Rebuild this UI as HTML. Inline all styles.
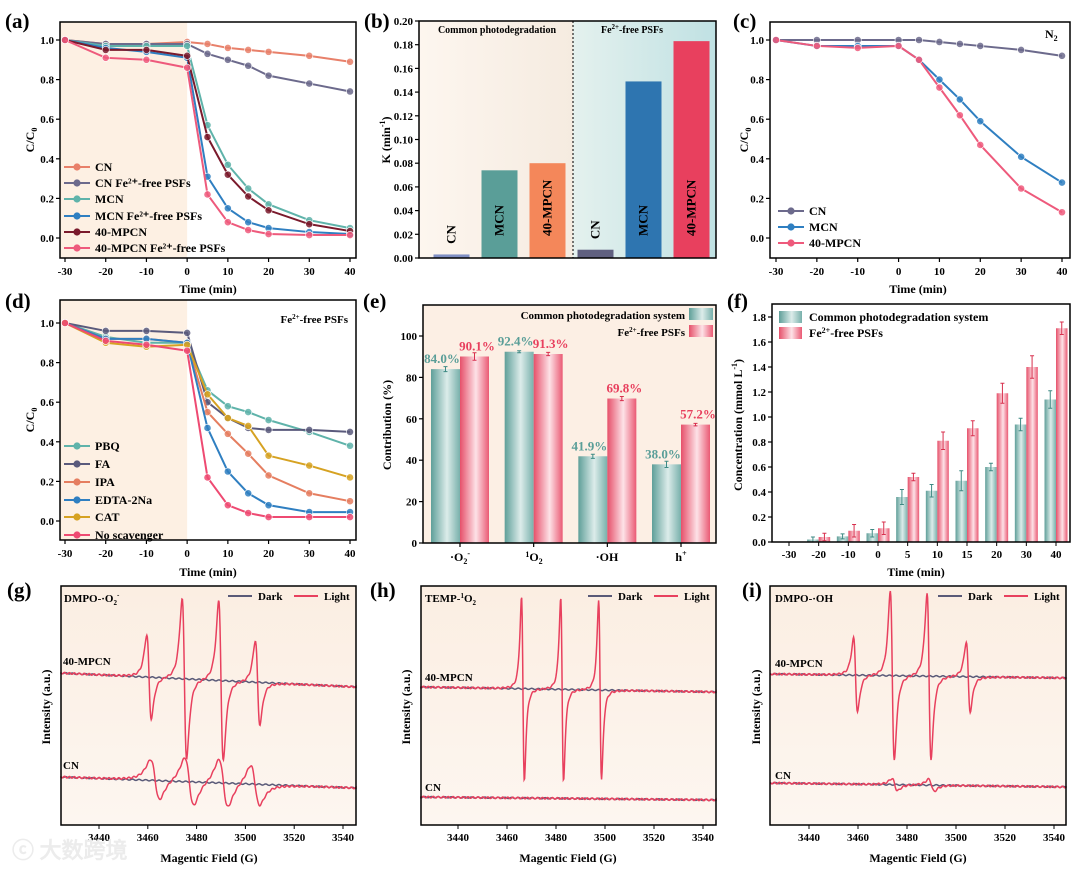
<!DOCTYPE html>
<html><head><meta charset="utf-8"><style>
html,body{margin:0;padding:0;background:#fff;}
svg{display:block;}
text{font-family:"Liberation Serif",serif;font-weight:bold;}
</style></head><body>
<svg id="fig" width="1080" height="870" viewBox="0 0 1080 870" xmlns="http://www.w3.org/2000/svg" font-family="'Liberation Serif',serif" font-weight="bold">
<defs>
<linearGradient id="gTeal" x1="0" x2="1" y1="0" y2="0"><stop offset="0" stop-color="#5f9f99"/><stop offset="0.55" stop-color="#dcecea"/><stop offset="1" stop-color="#78b0ab"/></linearGradient>
<linearGradient id="gPink" x1="0" x2="1" y1="0" y2="0"><stop offset="0" stop-color="#e6506a"/><stop offset="0.55" stop-color="#fde2e7"/><stop offset="1" stop-color="#ea5a74"/></linearGradient>
<linearGradient id="bL" x1="0" x2="1"><stop offset="0" stop-color="#fdf6ef"/><stop offset="1" stop-color="#f5ebe0"/></linearGradient>
<linearGradient id="bR" x1="0" x2="1"><stop offset="0" stop-color="#e4f1ee"/><stop offset="1" stop-color="#c0e1e3"/></linearGradient>
<linearGradient id="ePeach" x1="0" y1="0" x2="0" y2="1"><stop offset="0" stop-color="#fbeee2"/><stop offset="1" stop-color="#fdf6f0"/></linearGradient>
</defs>
<g id="bgs"></g>
<g id="marks"></g>
<g id="labels" font-size="12">
<text x="5" y="28" font-size="21">(a)</text>
<text x="364" y="28" font-size="21">(b)</text>
<text x="733" y="28" font-size="21">(c)</text>
<text x="5" y="308" font-size="21">(d)</text>
<text x="363" y="308" font-size="21">(e)</text>
<text x="727" y="308" font-size="21">(f)</text>
<text x="7" y="597" font-size="21">(g)</text>
<text x="370" y="597" font-size="21">(h)</text>
<text x="742" y="597" font-size="21">(i)</text>
<text transform="translate(34,140) rotate(-90)" text-anchor="middle">C/C<tspan font-size="8" dy="3">0</tspan></text>
<text transform="translate(748,140) rotate(-90)" text-anchor="middle">C/C<tspan font-size="8" dy="3">0</tspan></text>
<text transform="translate(34,420) rotate(-90)" text-anchor="middle">C/C<tspan font-size="8" dy="3">0</tspan></text>
<text transform="translate(390,140) rotate(-90)" text-anchor="middle">K (min<tspan font-size="8" dy="-5">-1</tspan><tspan dy="5">)</tspan></text>
<text transform="translate(391,425) rotate(-90)" text-anchor="middle">Contribution (%)</text>
<text transform="translate(742,425) rotate(-90)" text-anchor="middle">Concentration (mmol L<tspan font-size="8" dy="-5">-1</tspan><tspan dy="5">)</tspan></text>
<text x="208" y="293" text-anchor="middle">Time (min)</text>
<text x="918" y="293" text-anchor="middle">Time (min)</text>
<text x="208" y="576" text-anchor="middle">Time (min)</text>
<text x="916" y="576" text-anchor="middle">Time (min)</text>
<text x="209" y="862" text-anchor="middle">Magentic Field (G)</text>
<text x="568" y="862" text-anchor="middle">Magentic Field (G)</text>
<text x="918" y="862" text-anchor="middle">Magentic Field (G)</text>
<text transform="translate(50,707) rotate(-90)" text-anchor="middle">Intensity (a.u.)</text>
<text transform="translate(410,707) rotate(-90)" text-anchor="middle">Intensity (a.u.)</text>
<text transform="translate(760,707) rotate(-90)" text-anchor="middle">Intensity (a.u.)</text>
<text x="497" y="33" font-size="10" text-anchor="middle">Common photodegradation</text>
<text x="632" y="33" font-size="10" text-anchor="middle">Fe<tspan font-size="7" dy="-4">2+</tspan><tspan dy="4">-free PSFs</tspan></text>
<text x="1045" y="38">N<tspan font-size="8" dy="3">2</tspan></text>
<text x="348" y="323" font-size="11" text-anchor="end">Fe<tspan font-size="7" dy="-4">2+</tspan><tspan dy="4">-free PSFs</tspan></text>
<text x="64" y="602" font-size="11">DMPO-·O<tspan font-size="7" dy="3">2</tspan><tspan font-size="7" dy="-8">-</tspan></text>
<text x="425" y="602" font-size="11">TEMP-<tspan font-size="7" dy="-4">1</tspan><tspan dy="4">O</tspan><tspan font-size="7" dy="3">2</tspan></text>
<text x="775" y="602" font-size="11">DMPO-·OH</text>
<text x="63" y="665" font-size="11">40-MPCN</text>
<text x="63" y="769" font-size="11">CN</text>
<text x="425" y="681" font-size="11">40-MPCN</text>
<text x="425" y="791" font-size="11">CN</text>
<text x="775" y="667" font-size="11">40-MPCN</text>
<text x="775" y="779" font-size="11">CN</text>
<text x="685" y="319" font-size="11" text-anchor="end">Common photodegradation system</text>
<text x="685" y="336" font-size="11" text-anchor="end">Fe<tspan font-size="7" dy="-4">2+</tspan><tspan dy="4">-free PSFs</tspan></text>
<rect x="689" y="308" width="24" height="12" fill="url(#gTeal)"/>
<rect x="689" y="325" width="24" height="12" fill="url(#gPink)"/>
<rect x="779" y="311" width="23" height="12" fill="url(#gTeal)"/>
<rect x="779" y="327" width="23" height="12" fill="url(#gPink)"/>
<text x="809" y="321" font-size="12">Common photodegradation system</text>
<text x="809" y="337" font-size="12">Fe<tspan font-size="8" dy="-4">2+</tspan><tspan dy="4">-free PSFs</tspan></text>
<text x="460" y="561" text-anchor="middle">·O<tspan font-size="8" dy="3">2</tspan><tspan font-size="8" dy="-8">-</tspan></text>
<text x="534" y="561" text-anchor="middle"><tspan font-size="8" dy="-4">1</tspan><tspan dy="4">O</tspan><tspan font-size="8" dy="3">2</tspan></text>
<text x="607" y="561" text-anchor="middle">·OH</text>
<text x="681" y="561" text-anchor="middle">h<tspan font-size="8" dy="-5">+</tspan></text>
<text x="12" y="858" font-size="22" fill="#ececec" font-family="'Liberation Sans','Noto Sans CJK SC',sans-serif">ⓒ 大数跨境</text>
</g>
</svg>
<script>
const lineX=[-30,-20,-10,0,5,10,15,20,30,40];
const lineXTicks=[-30,-20,-10,0,10,20,30,40];
const ratioTicks=[0,0.2,0.4,0.6,0.8,1.0];
const aNames=['CN','CN Fe2+-free PSFs','MCN','MCN Fe2+-free PSFs','40-MPCN','40-MPCN Fe2+-free PSFs'];
const aCN=[1,0.98,0.98,0.99,0.98,0.96,0.95,0.94,0.92,0.89];
const aCNFe=[1,0.98,0.98,0.98,0.93,0.90,0.87,0.82,0.78,0.74];
const aMCN=[1,0.97,0.97,0.97,0.57,0.37,0.25,0.17,0.09,0.05];
const aMCNFe=[1,0.96,0.94,0.91,0.31,0.15,0.08,0.05,0.03,0.02];
const aMPCN=[1,0.95,0.95,0.92,0.51,0.32,0.21,0.14,0.07,0.035];
const aMPCNFe=[1,0.91,0.90,0.86,0.22,0.08,0.04,0.02,0.015,0.015];
const bCats=['CN','MCN','40-MPCN','CN','MCN','40-MPCN'];
const bValues=[0.003,0.074,0.080,0.007,0.149,0.183];
const bTicks=[0,0.02,0.04,0.06,0.08,0.10,0.12,0.14,0.16,0.18,0.20];
const cNames=['CN','MCN','40-MPCN'];
const cCN=[1,1,1,1,1,0.99,0.98,0.97,0.95,0.92];
const cMCN=[1,0.97,0.97,0.97,0.90,0.80,0.70,0.59,0.41,0.28];
const cMPCN=[1,0.97,0.96,0.97,0.90,0.76,0.62,0.47,0.25,0.13];
const dNames=['PBQ','FA','IPA','EDTA-2Na','CAT','No scavenger'];
const dPBQ=[1,0.93,0.90,0.90,0.66,0.58,0.55,0.51,0.45,0.38];
const dFA=[1,0.96,0.96,0.95,0.60,0.52,0.47,0.46,0.46,0.45];
const dIPA=[1,0.92,0.92,0.90,0.55,0.44,0.34,0.23,0.14,0.10];
const dEDTA=[1,0.92,0.92,0.90,0.47,0.25,0.14,0.08,0.045,0.045];
const dCAT=[1,0.90,0.88,0.89,0.64,0.52,0.48,0.33,0.28,0.22];
const dNone=[1,0.91,0.89,0.86,0.22,0.08,0.04,0.02,0.02,0.02];
const eCats=['·O2-','1O2','·OH','h+'];
const eCommon=[84.0,92.4,41.9,38.0];
const eFe=[90.1,91.3,69.8,57.2];
const eErr=[1.2,0.5,1.0,1.5];
const eFeErr=[1.8,0.8,1.0,0.6];
const eTicks=[0,20,40,60,80,100];
const fCats=['-30','-20','-10','0','5','10','15','20','30','40'];
const fCommon=[0,0.02,0.045,0.07,0.36,0.41,0.49,0.60,0.94,1.14];
const fFe=[0,0.04,0.09,0.11,0.52,0.81,0.91,1.19,1.40,1.71];
const fErr=[0,0.02,0.02,0.03,0.06,0.05,0.08,0.03,0.05,0.07];
const fFeErr=[0,0.03,0.05,0.05,0.03,0.07,0.06,0.08,0.09,0.05];
const fTicks=[0,0.2,0.4,0.6,0.8,1.0,1.2,1.4,1.6,1.8];
const eprTicks=[3440,3460,3480,3500,3520,3540];
const gMPCNField=[3460.5,3475,3490,3505];
const gMPCNAmp=[42,80,80,42];
const gCNField=[3463,3477,3491,3504];
const gCNAmp=[20,24,24,20];
const hMPCNField=[3466.5,3482.5,3498];
const hMPCNAmp=[92,92,90];
const iMPCNField=[3459,3474,3489,3505];
const iMPCNAmp=[37,85,83,35];

const NS='http://www.w3.org/2000/svg';
const bgs=document.getElementById('bgs');
const marks=document.getElementById('marks');
function mk(tag,attrs,parent){const e=document.createElementNS(NS,tag);for(const k in attrs)e.setAttribute(k,attrs[k]);(parent||marks).appendChild(e);return e;}
function lin(d0,d1,p0,p1){return v=>p0+(v-d0)*(p1-p0)/(d1-d0);}
function label(x,y,s,anchor,size,name,fill){const t=mk('text',{x:x,y:y,'text-anchor':anchor||'middle','font-size':size||11,fill:fill||'#000','font-family':"'Liberation Serif',serif",'font-weight':'bold'});t.textContent=s;


return t;}
function box(b,name){const r=mk('rect',{x:b[0],y:b[1],width:b[2]-b[0],height:b[3]-b[1],fill:'none',stroke:'#000','stroke-width':1.5});

}
function bgRect(x0,y0,x1,y1,fill,name){const r=mk('rect',{x:x0,y:y0,width:x1-x0,height:y1-y0,fill:fill},bgs);

}
function errBar(x,y0,y1,color,name){const l=mk('path',{d:'M'+x+','+y0+'V'+y1+'M'+(x-2)+','+y0+'H'+(x+2)+'M'+(x-2)+','+y1+'H'+(x+2),stroke:color,'stroke-width':1,fill:'none'});

}
function xTicks(b,X,vals,fmt,name,labels){vals.forEach(v=>{const l=mk('line',{x1:X(v),x2:X(v),y1:b[3],y2:b[3]+4,stroke:'#000','stroke-width':1.2});


if(labels!==false)label(X(v),b[3]+17,fmt(v),'middle',11,name+'-label');});}
function yTicks(b,Y,vals,fmt,name){vals.forEach(v=>{const l=mk('line',{x1:b[0]-4,x2:b[0],y1:Y(v),y2:Y(v),stroke:'#000','stroke-width':1.2});


label(b[0]-6,Y(v)+4,fmt(v),'end',11,name+'-label');});}
function series(X,Y,xs,ys,color,name){const pts=xs.map((x,i)=>X(x)+','+Y(ys[i])).join(' ');
const p=mk('polyline',{points:pts,fill:'none',stroke:color,'stroke-width':2});


xs.forEach((x,i)=>{const c=mk('circle',{cx:X(x),cy:Y(ys[i]),r:3.6,fill:color,stroke:'#fff','stroke-width':0.6,'fill-opacity':0.85});

});}
function legendEntry(x,y,color,text,name){const l=mk('line',{x1:x,x2:x+26,y1:y,y2:y,stroke:color,'stroke-width':2});


const c=mk('circle',{cx:x+13,cy:y,r:3.6,fill:color});


label(x+31,y+4,text,'start',12,name+'-text');}
const f1=v=>v.toFixed(1), f2=v=>v.toFixed(2), f0=v=>String(v);

{const b=[60,22,356,258];const X=lin(-30,40,65,350),Y=lin(0,1,238,40);
bgRect(b[0],b[1],X(0),b[3],'#fdf0e3','a-dark-region');
const cols=['#e8806a','#6c6a8c','#5fb3aa','#2f7fc1','#7a1a2c','#ee5a7c'];
const data=[aCN,aCNFe,aMCN,aMCNFe,aMPCN,aMPCNFe];
data.forEach((d,i)=>series(X,Y,lineX,d,cols[i],'a-series-'+i));
box(b,'a-plot-frame');xTicks(b,X,lineXTicks,f0,'a-x');yTicks(b,Y,ratioTicks,f1,'a-y');
const ly=[167,183,199,216,232,248];
aNames.forEach((n,i)=>legendEntry(64,ly[i],cols[i],n.replace('2+','²⁺'),'a-legend-'+i));}

{const b=[419,21,716,258];const Y=lin(0,0.2,258,21);const X=lin(0,5,451.5,691.5);
bgRect(b[0],b[1],573,b[3],'url(#bL)','b-bg-common');bgRect(573,b[1],b[2],b[3],'url(#bR)','b-bg-fe');
const cols=['#7f8fc4','#5a9e98','#f4875a','#606080','#2e75b0','#e8405e'];
bValues.forEach((v,i)=>{const r=mk('rect',{x:X(i)-18,y:Y(v),width:36,height:Y(0)-Y(v),fill:cols[i]});


const ty=v>0.05?Y(0)-22:Y(v)-20;const t=mk('text',{transform:'translate('+(X(i)+4)+','+ty+') rotate(-90)','text-anchor':v>0.05?'start':'middle','font-size':13});t.textContent=bCats[i];

});
const dl=mk('line',{x1:573,x2:573,y1:b[1],y2:b[3],stroke:'#222','stroke-dasharray':'2,2','stroke-width':1.2});


box(b,'b-plot-frame');yTicks(b,Y,bTicks,f2,'b-y');}

{const b=[770,22,1070,258];const X=lin(-30,40,776,1062),Y=lin(0,1,238,40);
const cols=['#6c6a8c','#2f7fc1','#ee5a7c'];
[cCN,cMCN,cMPCN].forEach((d,i)=>series(X,Y,lineX,d,cols[i],'c-series-'+i));
box(b,'c-plot-frame');xTicks(b,X,lineXTicks,f0,'c-x');yTicks(b,Y,ratioTicks,f1,'c-y');
const ly=[211,227,243];cNames.forEach((n,i)=>legendEntry(778,ly[i],cols[i],n,'c-legend-'+i));}

{const b=[60,300,356,540];const X=lin(-30,40,65,350),Y=lin(0,1,521,323);
bgRect(b[0],b[1],X(0),b[3],'#fdf0e3','d-dark-region');
const cols=['#5fb3aa','#5a5a7c','#e57e60','#2f7fc1','#d6a222','#ee4a72'];
[dPBQ,dFA,dIPA,dEDTA,dCAT,dNone].forEach((d,i)=>series(X,Y,lineX,d,cols[i],'d-series-'+i));
box(b,'d-plot-frame');xTicks(b,X,lineXTicks,f0,'d-x');yTicks(b,Y,ratioTicks,f1,'d-y');
const ly=[446,464,482,500,517,535];dNames.forEach((n,i)=>legendEntry(64,ly[i],cols[i],n,'d-legend-'+i));}

{const b=[423,305,716,543];const Y=lin(0,100,543,336);const C=lin(0,3,460,681);
bgRect(b[0],b[1],b[2],b[3],'#fcefe4','e-bg');
eCats.forEach((c,i)=>{
const r1=mk('rect',{x:C(i)-29,y:Y(eCommon[i]),width:29,height:Y(0)-Y(eCommon[i]),fill:'url(#gTeal)'});


const r2=mk('rect',{x:C(i),y:Y(eFe[i]),width:29,height:Y(0)-Y(eFe[i]),fill:'url(#gPink)'});


errBar(C(i)-14.5,Y(eCommon[i]+eErr[i]),Y(eCommon[i]-eErr[i]),'#3e8a84','e-err-common-'+i);
errBar(C(i)+14.5,Y(eFe[i]+eFeErr[i]),Y(eFe[i]-eFeErr[i]),'#d8304e','e-err-fe-'+i);
label(C(i)-18,Y(eCommon[i])-6,eCommon[i].toFixed(1)+'%','middle',13,'e-value-common-'+i,'#5a9e98');
label(C(i)+17,Y(eFe[i])-6,eFe[i].toFixed(1)+'%','middle',13,'e-value-fe-'+i,'#e8405e');});
box(b,'e-plot-frame');yTicks(b,Y,eTicks,f0,'e-y');xTicks(b,C,[0,1,2,3],f0,'e-x',false);}

{const b=[772,304,1070,542];const Y=lin(0,1.8,542,317);const C=lin(0,9,789,1056);
fCats.forEach((c,i)=>{
const r1=mk('rect',{x:C(i)-11.5,y:Y(fCommon[i]),width:11.5,height:Y(0)-Y(fCommon[i]),fill:'url(#gTeal)'});


const r2=mk('rect',{x:C(i),y:Y(fFe[i]),width:11.5,height:Y(0)-Y(fFe[i]),fill:'url(#gPink)'});


if(fCommon[i]>0)errBar(C(i)-5.75,Y(fCommon[i]+fErr[i]),Y(fCommon[i]-fErr[i]),'#3e8a84','f-err-common-'+i);
if(fFe[i]>0)errBar(C(i)+5.75,Y(fFe[i]+fFeErr[i]),Y(fFe[i]-fFeErr[i]),'#d8304e','f-err-fe-'+i);
label(C(i),b[3]+16,c,'middle',11,'f-x-label-'+i);
const t=mk('line',{x1:C(i),x2:C(i),y1:b[3],y2:b[3]+4,stroke:'#000'});

});
box(b,'f-plot-frame');yTicks(b,Y,fTicks,f1,'f-y');}

function deriv(f,fields,amps,w){let s=0;fields.forEach((c,k)=>{const u=(f-c)/w;s+=amps[k]*(-u/Math.pow(1+u*u,2))/0.3248;});return s;}
function eprPanel(p,b,X,base1,base2,pk1,am1,w1,pk2,am2,w2){
bgRect(b[0],b[1],b[2],b[3],'url(#ePeach)',p+'-bg');
const Y=v=>825-v;const f0_=3424,f1_=3546;
[[base1,pk1,am1,w1,'mpcn'],[base2,pk2,am2,w2,'cn']].forEach(s=>{
let dark=[],light=[];
for(let f=f0_;f<=f1_;f+=0.2){const t=(f-f0_)/(f1_-f0_);const base=s[0][0]+(s[0][1]-s[0][0])*t;
const xp=Math.max(b[0],Math.min(b[2],X(f)));
dark.push(xp+','+Y(base+0.6*Math.sin(f*2.3)));light.push(xp+','+Y(base+deriv(f,s[1],s[2],s[3])+0.8*Math.sin(f*3.1)));}
const d=mk('polyline',{points:dark.join(' '),fill:'none',stroke:'#5a5a78','stroke-width':1.5});


const l=mk('polyline',{points:light.join(' '),fill:'none',stroke:'#e8405e','stroke-width':1.5});

});
box(b,p+'-plot-frame');
eprTicks.forEach(v=>{const t=mk('line',{x1:X(v),x2:X(v),y1:b[3],y2:b[3]+4,stroke:'#000'});


label(X(v),b[3]+16,String(v),'middle',11,p+'-x-label');});
const lx=b[2]-128;
const ld=mk('line',{x1:lx,x2:lx+24,y1:596,y2:596,stroke:'#5a5a78','stroke-width':2});


label(lx+30,600,'Dark','start',11,p+'-legend-dark');
const ll=mk('line',{x1:lx+66,x2:lx+90,y1:596,y2:596,stroke:'#e8405e','stroke-width':2});


label(lx+96,600,'Light','start',11,p+'-legend-light');}
eprPanel('g',[61,586,356,825],lin(3440,3540,99,343),[152,138],[48,37],gMPCNField,gMPCNAmp,1.6,gCNField,gCNAmp,3.2);
eprPanel('h',[421,586,716,825],lin(3440,3540,458,703),[138,133],[28,25],hMPCNField,hMPCNAmp,1.0,[],[],1);
eprPanel('i',[770,586,1066,825],lin(3440,3540,809,1054),[151,147],[42,38],iMPCNField,iMPCNAmp,1.4,[3475,3490],[6,6],2);
</script>
</body></html>
